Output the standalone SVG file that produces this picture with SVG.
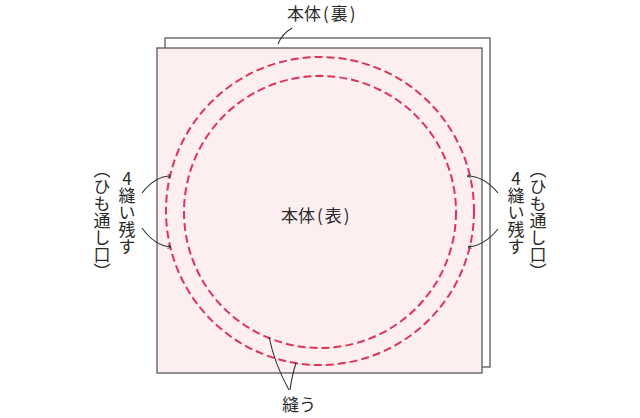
<svg xmlns="http://www.w3.org/2000/svg" width="640" height="418" viewBox="0 0 640 418">
<style>
.sheet{stroke:#5a5a5a;stroke-width:1.3}
.stitch{fill:none;stroke:#dc3559;stroke-width:2;stroke-dasharray:8 4}
.lead{fill:none;stroke:#333;stroke-width:1.1}
.t{font-family:"Noto Sans CJK JP","Noto Sans",sans-serif;font-size:17px;fill:#2a2a2a}
.v{writing-mode:vertical-rl}
.up{text-orientation:upright}
</style>
<defs>
<marker id="tick" viewBox="0 0 10 10" refX="9" refY="5" markerWidth="5" markerHeight="5" orient="auto" markerUnits="userSpaceOnUse">
<path d="M2,1 L9,5 L2,9" fill="none" stroke="#333" stroke-width="1.5"/>
</marker>
</defs>
<g id="back-sheet"><rect class="sheet" x="165" y="38" width="325" height="329" fill="#ffffff"/></g>
<g id="front-sheet"><rect class="sheet" x="157" y="48" width="325" height="325" fill="#fdeef0"/></g>
<g id="outer-stitch"><circle class="stitch" cx="320" cy="211" r="154"/></g>
<g id="inner-stitch"><circle class="stitch" cx="320" cy="212" r="136"/></g>
<g id="label-back"><text class="t" x="287" y="20">本体<tspan dx="2">(</tspan><tspan dx="2">裏</tspan><tspan dx="2">)</tspan></text></g>
<g id="label-front"><text class="t" x="281" y="222">本体<tspan dx="2">(</tspan><tspan dx="2">表</tspan><tspan dx="2">)</tspan></text></g>
<g id="label-left">
<text class="t v up" x="127" y="170">4縫い残す</text>
<text class="t v" x="102" y="161">（ひも通し口）</text>
</g>
<g id="label-right">
<text class="t v up" x="516" y="170">4縫い残す</text>
<text class="t v" x="538" y="161">（ひも通し口）</text>
</g>
<g id="label-sew"><text class="t" x="282" y="411">縫う</text></g>
<g id="connectors">
<path class="lead" d="M292,28 Q282,34 278,44"/>
<path class="lead" d="M142,193 Q155,176 171,176" marker-end="url(#tick)"/>
<path class="lead" d="M142,228 Q155,246 171,247" marker-end="url(#tick)"/>
<path class="lead" d="M498,193 Q484,176 467,176" marker-end="url(#tick)"/>
<path class="lead" d="M498,229 Q484,246 468,247" marker-end="url(#tick)"/>
<path class="lead" d="M289,390 Q275,365 269,337"/>
<path class="lead" d="M290,390 Q292,375 296,363"/>
</g>
</svg>
